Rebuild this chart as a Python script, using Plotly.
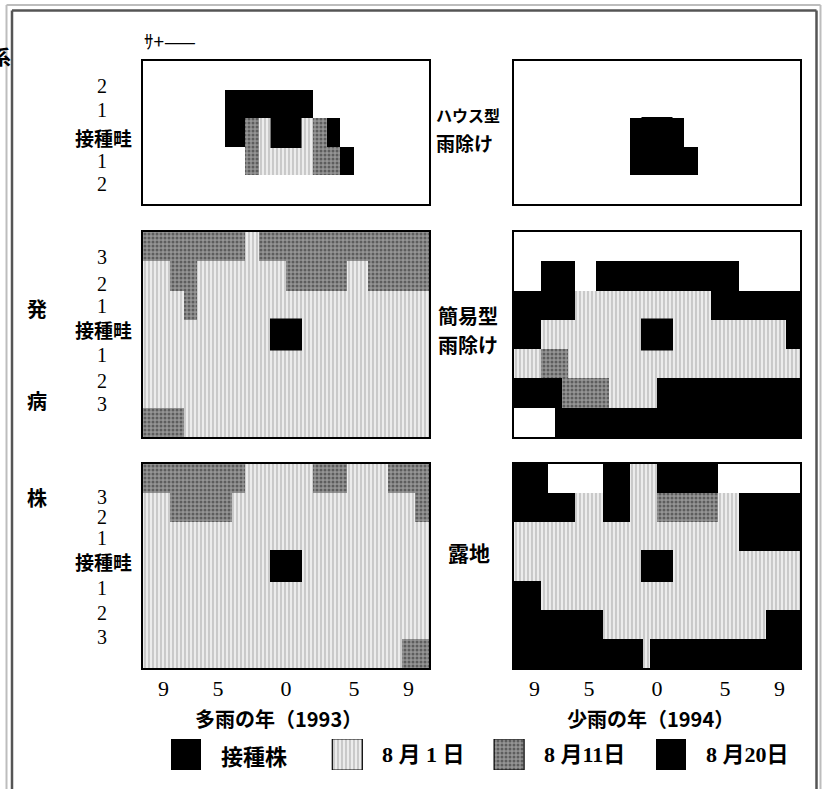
import plotly.graph_objects as go

W, H = 827, 789

# ---------------- data ----------------
# Cell codes: 0 = no disease, 1 = 8月1日, 2 = 8月11日, 3 = 8月20日
# Each row = list of (code, run length) in half-plant cells, 42 cells from left (9 side) to right (9 side).
# Rows are listed from top to bottom.
house_1993 = [
    [(0, 42)],
    [(0, 12), (3, 13), (0, 17)],
    [(0, 12), (3, 3), (2, 2), (1, 2), (3, 4), (1, 2), (2, 2), (3, 2), (0, 13)],
    [(0, 15), (2, 2), (1, 8), (2, 4), (3, 2), (0, 11)],
    [(0, 42)],
]
house_1994 = [
    [(0, 42)],
    [(0, 42)],
    [(0, 17), (3, 8), (0, 17)],
    [(0, 17), (3, 10), (0, 15)],
    [(0, 42)],
]
simple_1993 = [
    [(2, 15), (1, 2), (2, 25)],
    [(1, 4), (2, 4), (1, 13), (2, 9), (1, 3), (2, 9)],
    [(1, 6), (2, 2), (1, 34)],
    [(1, 42)],
    [(1, 42)],
    [(1, 42)],
    [(2, 6), (1, 36)],
]
simple_1994 = [
    [(0, 42)],
    [(0, 4), (3, 5), (0, 3), (3, 21), (0, 9)],
    [(3, 9), (1, 20), (3, 13)],
    [(3, 4), (1, 36), (3, 2)],
    [(1, 4), (2, 4), (1, 34)],
    [(3, 7), (2, 7), (1, 7), (3, 21)],
    [(0, 6), (3, 36)],
]
open_1993 = [
    [(2, 15), (1, 10), (2, 5), (1, 6), (2, 6)],
    [(1, 4), (2, 9), (1, 27), (2, 2)],
    [(1, 42)],
    [(1, 42)],
    [(1, 42)],
    [(1, 42)],
    [(1, 38), (2, 4)],
]
open_1994 = [
    [(3, 5), (0, 8), (3, 4), (1, 4), (3, 9), (0, 12)],
    [(3, 9), (1, 4), (3, 4), (1, 4), (2, 9), (1, 3), (3, 9)],
    [(1, 33), (3, 9)],
    [(1, 42)],
    [(3, 4), (1, 38)],
    [(3, 13), (1, 24), (3, 5)],
    [(3, 19), (1, 1), (3, 22)],
]

inoc_x = [0]
inoc_y = [0]

x_tickvals = [-9, -5, 0, 5, 9]
x_ticktext = ["9", "5", "0", "5", "9"]
rows5_labels = ["2", "1", "接種畦", "1", "2"]
rows7_labels = ["3", "2", "1", "接種畦", "1", "2", "3"]
treatments = [["ハウス型", "雨除け"], ["簡易型", "雨除け"], ["露地"]]
years = ["多雨の年（1993）", "少雨の年（1994）"]
side_label = ["発", "病", "株"]
legend_labels = ["接種株", "8 月 1 日", "8 月11日", "8 月20日"]

# ---------------- styles ----------------
X0, CELL = -10.5, 0.5
CJK = "Noto Sans CJK JP"
SERIF = "Liberation Serif, Noto Sans CJK JP"

STYLE = {
    1: dict(color="#ececec", line=dict(width=0),
            pattern=dict(shape="|", fgcolor="#707070", bgcolor="#ececec", size=4, solidity=0.28)),
    2: dict(color="#959595", line=dict(width=0),
            pattern=dict(shape=".", fgcolor="#262626", bgcolor="#959595", size=4, solidity=0.45)),
    3: dict(color="#000000", line=dict(width=0)),
}


def px_x(p):
    return p / W


def px_y(p):
    return 1 - p / H


def bars_from_rows(rows):
    out = {c: ([], [], []) for c in (1, 2, 3)}
    n = len(rows)
    for k, row in enumerate(rows):
        yc = (n - 1) / 2 - k
        start = 0
        for code, cnt in row:
            if code:
                out[code][0].append(X0 + CELL * (start + cnt / 2))
                out[code][1].append(CELL * cnt)
                out[code][2].append(yc - 0.5)
            start += cnt
    return out


fig = go.Figure()

left_dom = [px_x(143), px_x(429)]
right_dom = [px_x(514), px_x(800)]
row_doms = [[px_y(204), px_y(61)], [px_y(437), px_y(232)], [px_y(668), px_y(464)]]

panels = [
    (house_1993, left_dom, 0), (house_1994, right_dom, 0),
    (simple_1993, left_dom, 1), (simple_1994, right_dom, 1),
    (open_1993, left_dom, 2), (open_1994, right_dom, 2),
]

layout_axes = {}
for i, (rows, xdom, r) in enumerate(panels, start=1):
    xa, ya = f"x{i}", f"y{i}"
    b = bars_from_rows(rows)
    for code in (1, 2, 3):
        xs, ws, bs = b[code]
        if not xs:
            continue
        fig.add_trace(go.Bar(x=xs, y=[1] * len(xs), base=bs, width=ws,
                             marker=STYLE[code], xaxis=xa, yaxis=ya,
                             showlegend=False, hoverinfo="skip"))
    fig.add_trace(go.Scatter(x=inoc_x, y=inoc_y, mode="markers",
                             marker=dict(symbol="square", size=31 if r == 0 else 32, color="black",
                                         line=dict(width=0)),
                             xaxis=xa, yaxis=ya, showlegend=False, hoverinfo="skip"))
    n = len(rows)
    axis_line = dict(showline=True, mirror=True, linecolor="black", linewidth=1.6,
                     showgrid=False, zeroline=False, fixedrange=True)
    layout_axes["xaxis" if i == 1 else f"xaxis{i}"] = dict(
        domain=xdom, range=[-10.5, 10.5], anchor=ya,
        tickvals=x_tickvals, ticktext=x_ticktext, showticklabels=(r == 2),
        ticks="", tickfont=dict(family=SERIF, size=22, color="black"), **axis_line)
    layout_axes["yaxis" if i == 1 else f"yaxis{i}"] = dict(
        domain=row_doms[r], range=[-n / 2, n / 2], anchor=xa,
        showticklabels=False, ticks="", **axis_line)

# ---- legend drawn as its own small axis ----
leg_step = 161.8
leg_first = 185.5
leg_idx = [0, 1, 2, 3]
leg_codes = [3, 1, 2, 3]
for idx, code in zip(leg_idx, leg_codes):
    m = dict(STYLE[code])
    if code == 1 or code == 2:
        m = dict(m, line=dict(width=1.2, color="black"))
    fig.add_trace(go.Bar(x=[idx], y=[1], base=[0], width=[30 / leg_step], marker=m,
                         xaxis="x7", yaxis="y7", showlegend=False, hoverinfo="skip"))
layout_axes["xaxis7"] = dict(domain=[0, 1], range=[-leg_first / leg_step, (W - leg_first) / leg_step],
                             anchor="y7", visible=False, fixedrange=True)
layout_axes["yaxis7"] = dict(domain=[px_y(770), px_y(739)], range=[0, 1], anchor="x7",
                             visible=False, fixedrange=True)

ann = []


def text(t, x, y, size, family=CJK, xanchor="center", weight="bold"):
    ann.append(dict(text=t, x=x, y=y, xref="paper", yref="paper",
                    xanchor=xanchor, yanchor="middle", showarrow=False,
                    font=dict(family=family, size=size, color="black", weight=weight)))


# row labels
def row_label(lab, yp):
    if len(lab) == 1:
        text(lab, px_x(102), px_y(yp), 20, family=SERIF, weight="normal")
    else:
        text(lab, px_x(103), px_y(yp), 19)


for lab, yp in zip(rows5_labels, [86, 110, 137, 161, 184]):
    row_label(lab, yp)
for ys in ([257, 284, 306, 329, 355, 381, 404], [497, 517, 538, 561, 588, 613, 637]):
    for lab, yp in zip(rows7_labels, ys):
        row_label(lab, yp)

# treatment names
text(treatments[0][0], px_x(434), px_y(115), 16, xanchor="left")
text(treatments[0][1], px_x(434), px_y(142), 19, xanchor="left")
text(treatments[1][0], px_x(436), px_y(315), 20, xanchor="left")
text(treatments[1][1], px_x(436), px_y(344), 20, xanchor="left")
text(treatments[2][0], px_x(446), px_y(552), 21, xanchor="left")

# side label 発 病 株
for lab, yp in zip(side_label, [308, 400, 497]):
    text(lab, px_x(37), px_y(yp), 20)

# year titles
text(years[0], px_x(278), px_y(718), 20)
text(years[1], px_x(650), px_y(718), 20)

# legend texts
for idx, lab in zip(leg_idx, legend_labels):
    ann.append(dict(text=lab, x=idx + 33 / leg_step, y=0.5, xref="x7", yref="y7",
                    xanchor="left", yanchor="middle", showarrow=False,
                    font=dict(family=SERIF if lab[0].isdigit() else CJK, size=22, color="black",
                              weight="bold")))

# cut-off fragments at the top of the page
text("ｻ+——", px_x(170), px_y(41), 19, weight="normal")
text("系", px_x(1), px_y(56), 20)

shapes = [
    dict(type="line", xref="paper", yref="paper", x0=px_x(6.5), x1=px_x(6.5), y0=0, y1=px_y(5),
         line=dict(color="#bdbdbd", width=2)),
    dict(type="line", xref="paper", yref="paper", x0=px_x(6.5), x1=px_x(820.5), y0=px_y(5), y1=px_y(5),
         line=dict(color="#bdbdbd", width=2)),
    dict(type="line", xref="paper", yref="paper", x0=px_x(820.5), x1=px_x(820.5), y0=0, y1=px_y(5),
         line=dict(color="#bdbdbd", width=2)),
    dict(type="line", xref="paper", yref="paper", x0=px_x(12), x1=px_x(12), y0=0, y1=px_y(10.5),
         line=dict(color="#555555", width=2.5)),
    dict(type="line", xref="paper", yref="paper", x0=px_x(12), x1=px_x(816.5), y0=px_y(10.5), y1=px_y(10.5),
         line=dict(color="#555555", width=2.5)),
    dict(type="line", xref="paper", yref="paper", x0=px_x(816.5), x1=px_x(816.5), y0=0, y1=px_y(10.5),
         line=dict(color="#555555", width=2.5)),
]

fig.update_layout(
    width=W, height=H, autosize=False,
    margin=dict(l=0, r=0, t=0, b=0, pad=0),
    paper_bgcolor="white", plot_bgcolor="white",
    barmode="overlay", bargap=0,
    annotations=ann, shapes=shapes,
    **layout_axes,
)

fig.write_html("out.html", config={"displayModeBar": False, "staticPlot": True},
               post_script="document.body.style.margin='0px';")
